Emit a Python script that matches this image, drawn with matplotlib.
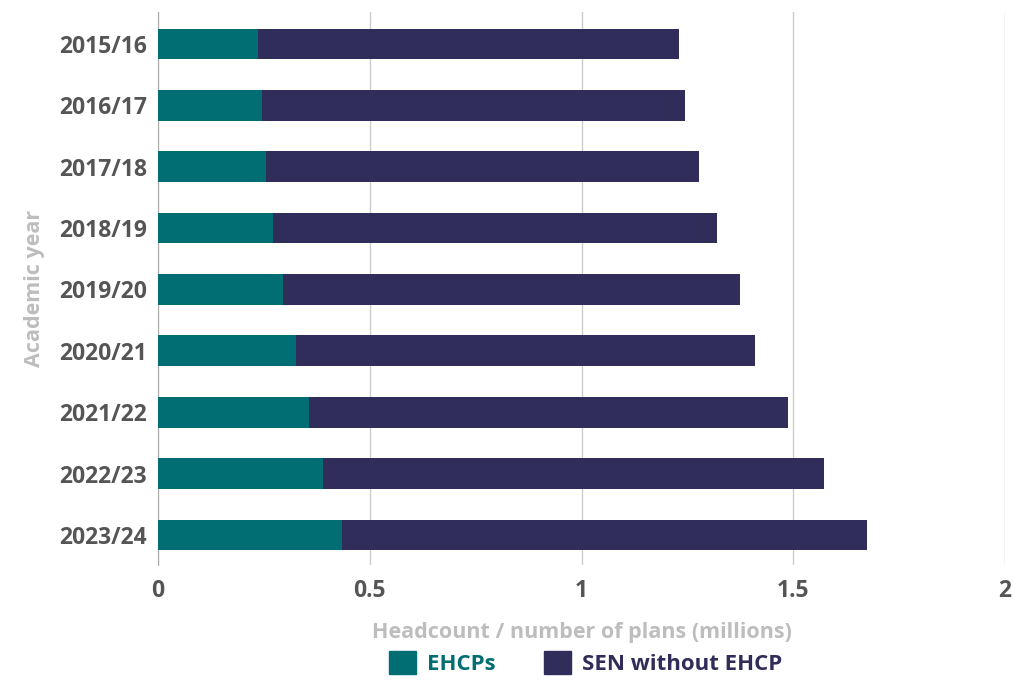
import matplotlib.pyplot as plt
from matplotlib.patches import Patch

# data (millions)
years = ['2015/16', '2016/17', '2017/18', '2018/19', '2019/20',
         '2020/21', '2021/22', '2022/23', '2023/24']
ehcp = [0.237, 0.245, 0.254, 0.272, 0.295, 0.326, 0.357, 0.390, 0.435]
sen_support = [0.993, 0.999, 1.023, 1.048, 1.079, 1.084, 1.131, 1.183, 1.239]

teal = '#016e73'
navy = '#312d5a'
tick_col = '#555555'
label_col = '#bdbdbd'

plt.rcParams['font.family'] = ['Open Sans', 'DejaVu Sans']
plt.rcParams['font.weight'] = 'bold'

fig = plt.figure(figsize=(10.13, 6.94), dpi=100)
ax = fig.add_axes([158 / 1013, 1 - 565 / 694, (1005 - 158) / 1013, (565 - 12) / 694])

ypos = list(range(len(years)))
ax.barh(ypos, ehcp, height=0.5, color=teal, zorder=3)
ax.barh(ypos, sen_support, left=ehcp, height=0.5, color=navy, zorder=3)

ax.set_ylim(8.49, -0.52)
ax.set_xlim(0, 2)
ax.set_yticks(ypos)
ax.set_yticklabels(years, fontsize=16.5, fontweight='bold', color=tick_col)
ax.set_xticks([0, 0.5, 1, 1.5, 2])
ax.set_xticklabels(['0', '0.5', '1', '1.5', '2'], fontsize=16.5, fontweight='bold', color=tick_col)
ax.tick_params(axis='y', length=0, pad=8)
ax.tick_params(axis='x', length=0, pad=10)

ax.grid(axis='x', color='#cccccc', linewidth=1, zorder=0)
for s in ['top', 'right', 'bottom']:
    ax.spines[s].set_visible(False)
ax.spines['left'].set_color('#aaaaaa')

ax.set_xlabel('Headcount / number of plans (millions)', fontsize=15.5, fontweight='bold',
              color=label_col, labelpad=14)
ax.set_ylabel('Academic year', fontsize=15.5, fontweight='bold', color=label_col, labelpad=10)

handles = [Patch(color=teal, label='EHCPs'), Patch(color=navy, label='SEN without EHCP')]
leg = fig.legend(handles=handles, loc='upper center', bbox_to_anchor=(0.578, 0.068),
                 ncol=2, frameon=False, handlelength=1.2, handleheight=1.2,
                 columnspacing=2.2, handletextpad=0.5, borderaxespad=0, borderpad=0.2,
                 prop={'weight': 'bold', 'size': 16})
for t, c in zip(leg.get_texts(), [teal, navy]):
    t.set_color(c)

fig.savefig('out.png', dpi=100)
